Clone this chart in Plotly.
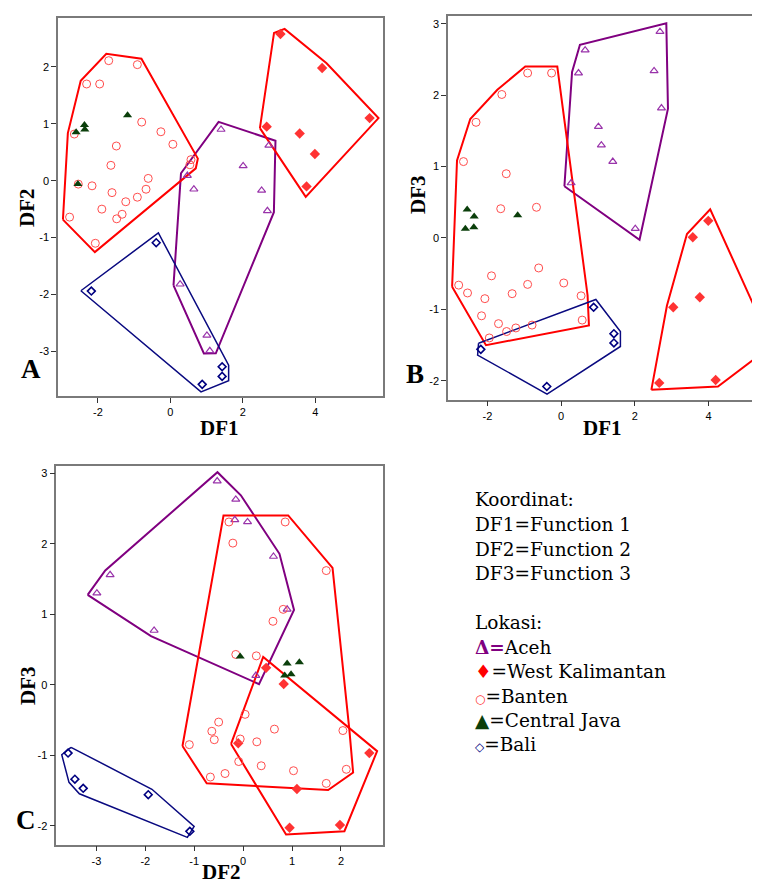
import math
import plotly.graph_objects as go

W, H = 760, 883

# ---------------- data (discriminant function scores) ----------------
aceh_df1 = [2.68, 0.65, 0.47, 2.52, 2.72, 1.01, 1.09, 1.40, 0.27, 2.01]
aceh_df2 = [-0.53, -0.15, 0.09, -0.17, 0.62, -2.72, -2.99, 0.90, -1.82, 0.26]
aceh_df3 = [2.89, 2.63, 2.31, 2.34, 1.82, 1.56, 1.30, 1.07, 0.77, 0.13]

wk_df1 = [3.04, 4.19, 5.50, 2.66, 3.57, 3.99, 3.76]
wk_df2 = [2.58, 1.98, 1.10, 0.95, 0.83, 0.47, -0.10]
wk_df3 = [-0.97, -1.99, -1.48, -2.03, 0.01, 0.24, -0.83]

banten_df1 = [-0.91, -0.26, -1.61, -2.31, -2.65, -1.49, -0.67, -1.64, -0.61, -1.89, 0.07, -0.91,
              -2.78, -2.54, -1.33, 0.54, -2.07, -2.16, 0.57, -1.70, -0.79, -1.23, -1.48, -1.95]
banten_df2 = [-0.29, 0.86, -0.21, 1.70, 0.82, 0.61, -0.15, 0.27, 0.04, -0.50, 0.64, 2.04,
              -0.64, -0.06, -0.59, 0.28, -1.10, -0.09, 0.37, 2.11, 1.03, -0.37, -0.67, 1.70]
banten_df3 = [2.31, 2.31, 2.01, 1.62, 1.07, 0.90, 0.43, 0.41, -0.42, -0.53, -0.63, -0.65,
              -0.66, -0.77, -0.78, -0.81, -0.85, -1.09, -1.15, -1.20, -1.22, -1.26, -1.31, -1.40]

cj_df1 = [-2.55, -1.18, -2.36, -2.37, -2.60]
cj_df2 = [-0.06, 1.15, 0.90, 0.98, 0.85]
cj_df3 = [0.40, 0.32, 0.30, 0.15, 0.13]

bali_df1 = [0.88, 1.43, 1.43, -2.18, -0.39]
bali_df2 = [-3.58, -3.44, -3.27, -1.94, -1.09]
bali_df3 = [-0.97, -1.34, -1.47, -1.56, -2.08]

group_names = ["Aceh", "West Kalimantan", "Banten", "Central Java", "Bali"]
legend_header = ["Koordinat:", "DF1=Function 1", "DF2=Function 2", "DF3=Function 3"]
panel_letters = ["A", "B", "C"]

groups = {
    "Aceh": dict(df1=aceh_df1, df2=aceh_df2, df3=aceh_df3,
                 marker=dict(symbol="triangle-up-open", size=7, color="#9933AA", line=dict(width=1.2, color="#9933AA")),
                 hull="#800080", hw=2),
    "West Kalimantan": dict(df1=wk_df1, df2=wk_df2, df3=wk_df3,
                            marker=dict(symbol="diamond", size=8, color="#FF3333", line=dict(width=0)),
                            hull="#FF0000", hw=2),
    "Banten": dict(df1=banten_df1, df2=banten_df2, df3=banten_df3,
                   marker=dict(symbol="circle-open", size=8, color="#FF4D4D", line=dict(width=1, color="#FF4D4D")),
                   hull="#FF0000", hw=2),
    "Central Java": dict(df1=cj_df1, df2=cj_df2, df3=cj_df3,
                         marker=dict(symbol="triangle-up", size=8, color="#0B3F0B", line=dict(width=0)),
                         hull=None, hw=0),
    "Bali": dict(df1=bali_df1, df2=bali_df2, df3=bali_df3,
                 marker=dict(symbol="diamond-open", size=6, color="#000080", line=dict(width=1.6, color="#000080")),
                 hull="#0A0A80", hw=1.5),
}

# ---------------- panel geometry (pixels) ----------------
panels = [
    dict(xk="df1", yk="df2", xpx=(50, 375), ypx=(10, 388.3), xr=(-3.10, 5.87), yr=(-3.79, 2.86),
         xt=[-2, 0, 2, 4], yt=[-3, -2, -1, 0, 1, 2], mirror_y=True),
    dict(xk="df1", yk="df3", xpx=(440, 760), ypx=(8.3, 391.7), xr=(-3.07, 5.61), yr=(-2.265, 3.105),
         xt=[-2, 0, 2, 4], yt=[-2, -1, 0, 1, 2, 3], mirror_y=False),
    dict(xk="df2", yk="df3", xpx=(48.3, 375), ypx=(458.3, 836.7), xr=(-3.82, 2.86), yr=(-2.27, 3.10),
         xt=[-3, -2, -1, 0, 1, 2], yt=[-2, -1, 0, 1, 2, 3], mirror_y=True),
]


def convex_hull(pts):
    pts = sorted(set(pts))
    if len(pts) < 3:
        return pts

    def cross(o, a, b):
        return (a[0] - o[0]) * (b[1] - o[1]) - (a[1] - o[1]) * (b[0] - o[0])

    lower, upper = [], []
    for p in pts:
        while len(lower) >= 2 and cross(lower[-2], lower[-1], p) <= 0:
            lower.pop()
        lower.append(p)
    for p in reversed(pts):
        while len(upper) >= 2 and cross(upper[-2], upper[-1], p) <= 0:
            upper.pop()
        upper.append(p)
    return lower[:-1] + upper[:-1]


def offset_hull(xs, ys, sx, sy, d=6.5):
    P = [(x * sx, y * sy) for x, y in zip(xs, ys)]
    h = convex_hull(P)
    n = len(h)
    out = []

    def nrm(a, b):
        dx, dy = b[0] - a[0], b[1] - a[1]
        L = math.hypot(dx, dy)
        return (dy / L, -dx / L)

    for i in range(n):
        p0, p1, p2 = h[i - 1], h[i], h[(i + 1) % n]
        n1, n2 = nrm(p0, p1), nrm(p1, p2)
        dot = n1[0] * n2[0] + n1[1] * n2[1]
        ratio = math.sqrt(2.0 / (1 + dot))
        if ratio > 2.0:
            # bevel join
            out.append((p1[0] + n1[0] * d, p1[1] + n1[1] * d))
            out.append((p1[0] + n2[0] * d, p1[1] + n2[1] * d))
        else:
            k = d / (1 + dot)
            out.append((p1[0] + (n1[0] + n2[0]) * k, p1[1] + (n1[1] + n2[1]) * k))
    out.append(out[0])
    return [p[0] / sx for p in out], [p[1] / sy for p in out]


fig = go.Figure()
layout = dict(width=W, height=H, margin=dict(l=0, r=0, t=0, b=0), paper_bgcolor="white",
              plot_bgcolor="white", showlegend=False)

tickfont = dict(family="Liberation Sans, Arial, sans-serif", size=11, color="#000")
frame = "#7a7a7a"

for i, pn in enumerate(panels):
    sfx = "" if i == 0 else str(i + 1)
    xa, ya = "x" + sfx, "y" + sfx
    x0, x1 = pn["xpx"]
    y0, y1 = pn["ypx"]
    sx = (x1 - x0) / (pn["xr"][1] - pn["xr"][0])
    sy = (y1 - y0) / (pn["yr"][1] - pn["yr"][0])
    layout["xaxis" + sfx] = dict(domain=[x0 / W, min(1.0, x1 / W)], range=list(pn["xr"]), anchor=ya,
                                 showgrid=False, zeroline=False, showline=True, linecolor=frame, linewidth=1.5,
                                 mirror=True, ticks="outside", ticklen=5, tickcolor="#333", tickwidth=1,
                                 tickvals=pn["xt"], ticktext=[str(v) for v in pn["xt"]], tickfont=tickfont)
    layout["yaxis" + sfx] = dict(domain=[1 - y1 / H, 1 - y0 / H], range=list(pn["yr"]), anchor=xa,
                                 showgrid=False, zeroline=False, showline=True, linecolor=frame, linewidth=1.5,
                                 mirror=pn["mirror_y"], ticks="outside", ticklen=5, tickcolor="#333", tickwidth=1,
                                 tickvals=pn["yt"], ticktext=[str(v) for v in pn["yt"]], tickfont=tickfont)
    # hulls
    for g in group_names:
        gd = groups[g]
        if gd["hull"] is None:
            continue
        hx, hy = offset_hull(gd[pn["xk"]], gd[pn["yk"]], sx, sy)
        fig.add_trace(go.Scatter(x=hx, y=hy, mode="lines", xaxis=xa, yaxis=ya,
                                 line=dict(color=gd["hull"], width=gd["hw"]), hoverinfo="skip"))
    # points
    for g in group_names:
        gd = groups[g]
        fig.add_trace(go.Scatter(x=gd[pn["xk"]], y=gd[pn["yk"]], mode="markers", name=g,
                                 xaxis=xa, yaxis=ya, marker=gd["marker"]))

ann = []
titlefont = dict(family="Liberation Serif, Times New Roman, serif", size=21, color="#000")
letterfont = dict(family="Liberation Serif, Times New Roman, serif", size=27, color="#000")


def px_ann(text, x, y, font, angle=0, xanchor="center"):
    ann.append(dict(text=text, x=x / W, y=1 - y / H, xref="paper", yref="paper", showarrow=False,
                    xanchor=xanchor, yanchor="middle", font=font, textangle=angle))


axis_titles = [("DF1", 212, 420, 0), ("DF2", 19, 200, -90),
               ("DF1", 594, 420, 0), ("DF3", 410, 187, -90),
               ("DF2", 213, 864, 0), ("DF3", 20, 678, -90)]
for t, x, y, a in axis_titles:
    px_ann("<b>" + t + "</b>", x, y, titlefont, a)

for t, x, y in zip(panel_letters, [23, 407, 18], [361, 366, 812]):
    px_ann("<b>" + t + "</b>", x, y, letterfont)

lf = dict(family="DejaVu Serif, serif", size=18.5, color="#000")
lx = 465
ly = [492, 516.5, 541, 565.5]
for t, y in zip(legend_header, ly):
    px_ann(t, lx, y, lf, xanchor="left")
px_ann("Lokasi:", lx, 614.5, lf, xanchor="left")
sym = ['<span style="color:#800080"><b>Δ=</b></span>',
       '<span style="color:#FF0000">♦</span>=',
       '<span style="color:#FF3333;font-size:12px">○</span>=',
       '<span style="color:#0B3F0B">▲</span>=',
       '<span style="color:#000080;font-size:12px">◇</span>=']
for s, g, y in zip(sym, group_names, [639, 663, 688, 712, 736.5]):
    px_ann(s + g, lx, y, lf, xanchor="left")

layout["annotations"] = ann
fig.update_layout(**layout)
fig.write_html("out.html")
